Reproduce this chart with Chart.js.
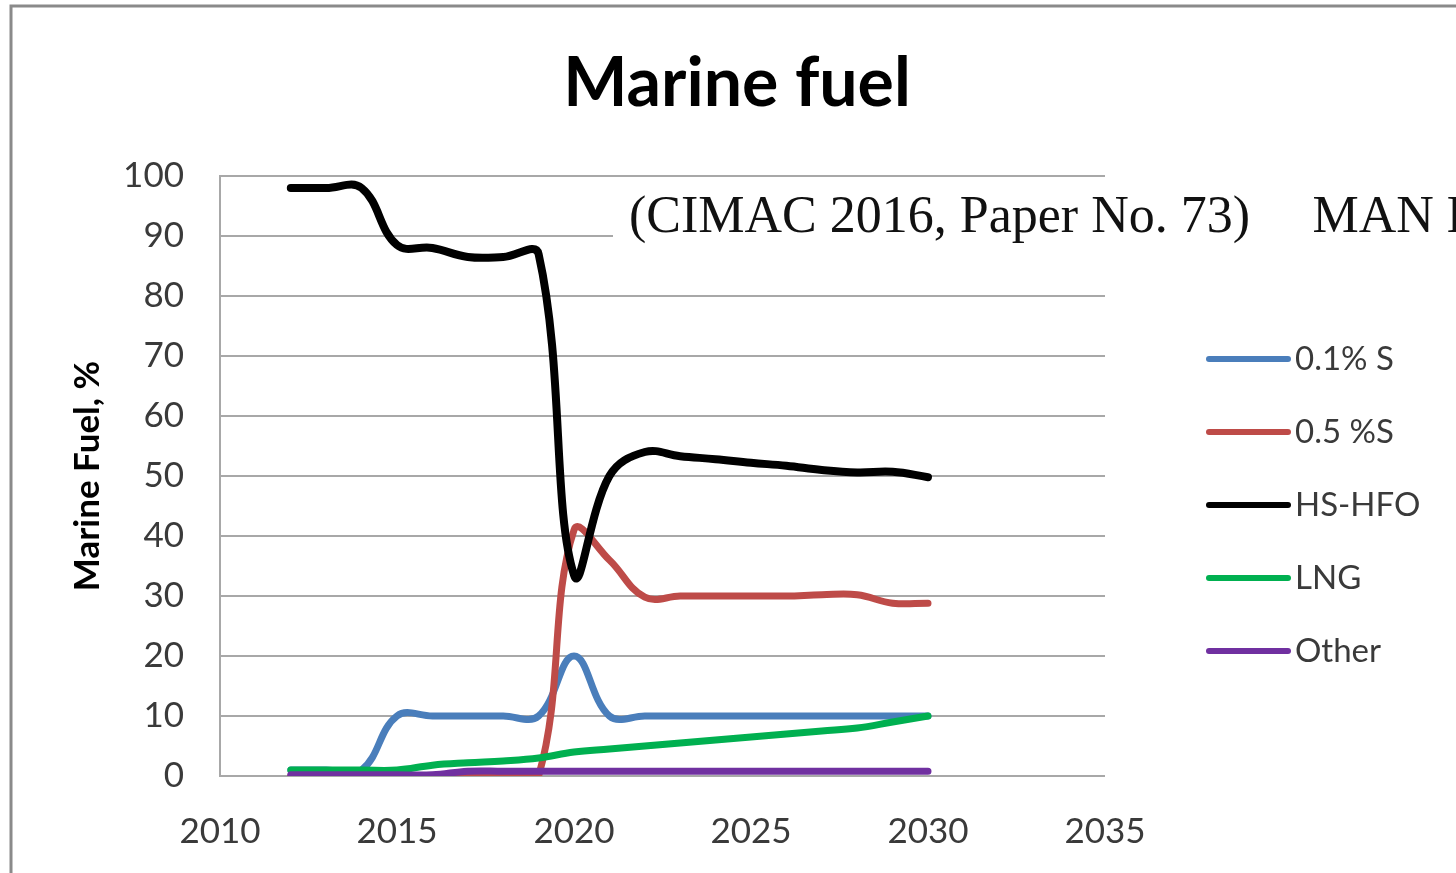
<!DOCTYPE html>
<html>
<head>
<meta charset="utf-8">
<script src="https://cdn.jsdelivr.net/npm/chart.js@4.4.1/dist/chart.umd.min.js"></script>
<style>
  html, body { margin: 0; padding: 0; background: #fff; }
  #wrap { position: relative; width: 1456px; height: 873px; }
</style>
</head>
<body>
<div id="wrap"><canvas id="placeholder1" width="1456" height="873"></canvas></div>
<script>
// values, one entry per year
const years = [2012, 2013, 2014, 2015, 2016, 2017, 2018, 2019, 2020, 2021, 2022, 2023, 2024, 2025, 2026, 2027, 2028, 2029, 2030];
const sulphur01 = [1, 1, 1, 10, 10, 10, 10, 10, 20, 10, 10, 10, 10, 10, 10, 10, 10, 10, 10];
const sulphur05 = [0, 0, 0, 0, 0, 0, 0, 0, 41, 36, 29.8, 30, 30, 30, 30, 30.2, 30.2, 28.8, 28.8];
const hsHfo = [98, 98, 98, 88.5, 88, 86.5, 86.5, 87, 33.5, 50, 54, 53.3, 52.8, 52.2, 51.7, 51, 50.6, 50.7, 49.8];
const lng = [1, 1, 1, 1, 1.8, 2.2, 2.5, 3, 4, 4.5, 5, 5.5, 6, 6.5, 7, 7.5, 8, 9, 10];
const other = [0.2, 0.2, 0.2, 0.2, 0.2, 0.8, 0.8, 0.8, 0.8, 0.8, 0.8, 0.8, 0.8, 0.8, 0.8, 0.8, 0.8, 0.8, 0.8];

const seriesNames = ['0.1% S', '0.5 %S', 'HS-HFO', 'LNG', 'Other'];
const seriesColors = ['#4a7ebb', '#be4b48', '#000000', '#00b050', '#7030a0'];
const seriesValues = [sulphur01, sulphur05, hsHfo, lng, other];

const xTicks = [2010, 2015, 2020, 2025, 2030, 2035];
const yTicks = [0, 10, 20, 30, 40, 50, 60, 70, 80, 90, 100];
const sourceNote = '(CIMAC 2016, Paper No. 73)\u3000\u2009MAN Diesel & Turbo';

const tickColor = '#3a3a3a';
const gridColor = '#a8a8a8';

const ctx = document.getElementById('placeholder1');

// frame + white background
const framePlugin = {
    id: 'frame',
    beforeDraw(chart) {
        const c = chart.ctx;
        c.save();
        c.fillStyle = '#fff';
        c.fillRect(0, 0, chart.width, chart.height);
        c.strokeStyle = '#8a8a8a';
        c.lineWidth = 3;
        c.beginPath();
        c.moveTo(11, chart.height);
        c.lineTo(11, 6);
        c.lineTo(chart.width, 6);
        c.stroke();
        c.restore();
    }
};

// legend on the right, drawn by hand so it sits where the original has it
const sideLegend = {
    id: 'sideLegend',
    afterDraw(chart) {
        const c = chart.ctx;
        c.save();
        c.font = '33px Lato';
        c.textBaseline = 'middle';
        c.textAlign = 'left';
        seriesNames.forEach((name, i) => {
            const y = 359 + i * 73;
            c.strokeStyle = seriesColors[i];
            c.lineWidth = 6;
            c.lineCap = 'round';
            c.beginPath();
            c.moveTo(1209, y);
            c.lineTo(1288, y);
            c.stroke();
            c.fillStyle = tickColor;
            c.fillText(name, 1295, y);
        });
        c.restore();
    }
};

// pasted source note with its white box
const notePlugin = {
    id: 'note',
    afterDraw(chart) {
        const c = chart.ctx;
        c.save();
        c.fillStyle = '#fff';
        c.fillRect(613, 186, chart.width - 613, 92);
        c.fillStyle = '#111';
        c.font = '52px "Liberation Serif"';
        c.textBaseline = 'alphabetic';
        c.textAlign = 'left';
        c.fillText(sourceNote, 629, 232);
        c.restore();
    }
};

const data = {
    datasets: seriesNames.map((name, i) => ({
        label: name,
        data: years.map((x, j) => ({ x: x, y: seriesValues[i][j] })),
        borderColor: seriesColors[i],
        backgroundColor: seriesColors[i],
        borderWidth: i === 2 ? 8 : 7,
        pointRadius: 0,
        tension: 0.4,
        borderCapStyle: 'round',
        borderJoinStyle: 'round',
        order: seriesNames.length - i
    }))
};

const config = {
    type: 'line',
    data: data,
    plugins: [framePlugin, notePlugin, sideLegend],
    options: {
        responsive: false,
        animation: false,
        layout: {
            padding: { left: 18, right: 0, top: 0, bottom: 0 }
        },
        plugins: {
            legend: { display: false },
            tooltip: { enabled: false },
            title: {
                display: true,
                text: 'Marine fuel',
                color: '#000',
                font: { family: 'Lato', size: 68, weight: 'bold', lineHeight: 1.2 },
                padding: { top: 43, bottom: 51.4 }
            }
        },
        scales: {
            x: {
                type: 'linear',
                min: 2010,
                max: 2035,
                afterBuildTicks: (scale) => { scale.ticks = xTicks.map(v => ({ value: v })); },
                afterFit: (scale) => { scale.height = 97; },
                grid: { display: false },
                border: { display: false },
                ticks: {
                    color: tickColor,
                    padding: 27,
                    maxRotation: 0,
                    font: { family: 'Lato', size: 35 },
                    callback: (v) => String(v)
                }
            },
            y: {
                min: 0,
                max: 100,
                afterBuildTicks: (scale) => { scale.ticks = yTicks.map(v => ({ value: v })); },
                afterFit: (scale) => { scale.width = 202; },
                grid: { color: gridColor, lineWidth: 2, drawTicks: false },
                border: { display: true, color: gridColor, width: 2 },
                ticks: {
                    color: tickColor,
                    padding: 36,
                    font: { family: 'Lato', size: 35 }
                },
                title: {
                    display: true,
                    text: 'Marine Fuel, %',
                    color: '#000',
                    font: { family: 'Lato', size: 35, weight: 'bold', lineHeight: 1.2 },
                    padding: { top: 49, bottom: 0 }
                }
            },
            // empty axis that only keeps room for the legend
            y2: {
                type: 'linear',
                position: 'right',
                afterFit: (scale) => { scale.width = 351; },
                grid: { display: false },
                border: { display: false },
                ticks: { display: false }
            }
        }
    }
};

const lineChart = new Chart(ctx, config);
</script>
</body>
</html>
